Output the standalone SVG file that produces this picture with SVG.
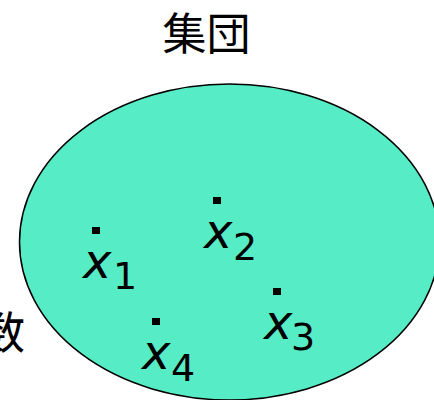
<svg xmlns="http://www.w3.org/2000/svg" width="434" height="400" viewBox="0 0 434 400">
<style>
.cjk{font-family:"Noto Sans CJK JP","Noto Sans",sans-serif;font-size:44px;fill:#000}
.var{font-family:"DejaVu Sans",Verdana,sans-serif;font-style:italic;font-size:48px;fill:#000}
.sub{font-family:"DejaVu Sans",Verdana,sans-serif;font-size:38px;fill:#000}
.dot{fill:#000}
</style>
<rect width="434" height="400" fill="#fff"/>
<g id="title"><text class="cjk" x="206.5" y="50" text-anchor="middle">集団</text></g>
<g id="side-label"><text class="cjk" x="25" y="349" text-anchor="end">数</text></g>
<g id="population"><ellipse cx="229.5" cy="242" rx="210" ry="158" fill="#56ECC6" stroke="#000" stroke-width="1.5"/></g>
<g id="x1"><rect class="dot" x="92" y="227" width="8" height="7"/><text class="var" x="83" y="278">x</text><text class="sub" x="113" y="289">1</text></g>
<g id="x2"><rect class="dot" x="213" y="197" width="8" height="7"/><text class="var" x="204" y="248">x</text><text class="sub" x="233" y="260">2</text></g>
<g id="x3"><rect class="dot" x="273" y="288" width="8" height="7"/><text class="var" x="264" y="339">x</text><text class="sub" x="291" y="350">3</text></g>
<g id="x4"><rect class="dot" x="152" y="318" width="8" height="7"/><text class="var" x="142" y="369">x</text><text class="sub" x="171" y="381">4</text></g>
</svg>
